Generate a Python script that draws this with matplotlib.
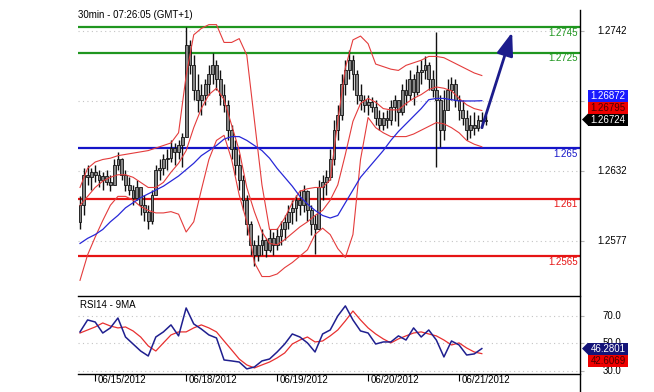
import numpy as np
import matplotlib
matplotlib.use('Agg')
import matplotlib.pyplot as plt
from matplotlib.patches import Rectangle, Polygon
from matplotlib.lines import Line2D
from matplotlib.transforms import IdentityTransform, blended_transform_factory

plt.rcParams['font.family'] = ['Liberation Sans', 'DejaVu Sans']

# hourly bars, EUR/USD-ish
first_open = 1.2592
close = [1.2605, 1.2629, 1.2627, 1.2631, 1.2629, 1.2625, 1.2628, 1.2623, 1.2621, 1.2637,
         1.2641, 1.2629, 1.2621, 1.2617, 1.2611, 1.2619, 1.2605, 1.2600, 1.2593, 1.2613,
         1.2633, 1.2634, 1.2641, 1.2642, 1.2650, 1.2647, 1.2652, 1.2659, 1.2731, 1.2715,
         1.2696, 1.2688, 1.2692, 1.2700, 1.2708, 1.2715, 1.2704, 1.2692, 1.2684, 1.2664,
         1.2649, 1.2637, 1.2625, 1.2609, 1.2590, 1.2574, 1.2566, 1.2574, 1.2578, 1.2570,
         1.2579, 1.2574, 1.2581, 1.2586, 1.2592, 1.2600, 1.2603, 1.2609, 1.2605, 1.2616,
         1.2601, 1.2590, 1.2586, 1.2619, 1.2623, 1.2627, 1.2641, 1.2664, 1.2676, 1.2700,
         1.2711, 1.2719, 1.2708, 1.2692, 1.2688, 1.2684, 1.2686, 1.2682, 1.2674, 1.2668,
         1.2674, 1.2672, 1.2682, 1.2688, 1.2678, 1.2696, 1.2692, 1.2704, 1.2694, 1.2710,
         1.2711, 1.2715, 1.2704, 1.2696, 1.2688, 1.2664, 1.2680, 1.2696, 1.2700, 1.2688,
         1.2680, 1.2674, 1.2664, 1.2668, 1.2666, 1.2672, 1.2671, 1.26724]
high = [1.2612, 1.2634, 1.2637, 1.2634, 1.2637, 1.2633, 1.2631, 1.2633, 1.2629, 1.2641,
        1.2647, 1.2642, 1.2633, 1.2627, 1.2621, 1.2625, 1.2617, 1.2613, 1.2605, 1.2617,
        1.2637, 1.2641, 1.2645, 1.2649, 1.2656, 1.2654, 1.2656, 1.2662, 1.2745, 1.2735,
        1.2723, 1.2708, 1.2700, 1.2704, 1.2715, 1.2725, 1.2719, 1.2711, 1.2700, 1.2688,
        1.2668, 1.2656, 1.2645, 1.2629, 1.2613, 1.2593, 1.2578, 1.2582, 1.2586, 1.2579,
        1.2586, 1.2584, 1.2587, 1.2593, 1.2597, 1.2605, 1.2609, 1.2613, 1.2617, 1.2621,
        1.2617, 1.2605, 1.2597, 1.2625, 1.2629, 1.2633, 1.2649, 1.2672, 1.2684, 1.2708,
        1.2719, 1.2727, 1.2723, 1.2711, 1.2700, 1.2692, 1.2692, 1.2690, 1.2688, 1.2680,
        1.2678, 1.2680, 1.2688, 1.2692, 1.2688, 1.2700, 1.2704, 1.2711, 1.2708, 1.2715,
        1.2719, 1.2722, 1.2718, 1.2711, 1.2741, 1.2692, 1.2696, 1.2704, 1.2706, 1.2704,
        1.2692, 1.2688, 1.2680, 1.2676, 1.2678, 1.2676, 1.2678, 1.2676]
low = [1.2586, 1.2597, 1.2621, 1.2617, 1.2623, 1.2619, 1.2617, 1.2621, 1.2616, 1.2623,
       1.2633, 1.2625, 1.2616, 1.2613, 1.2605, 1.2609, 1.2597, 1.2593, 1.2586, 1.2590,
       1.2613, 1.2625, 1.2629, 1.2633, 1.2639, 1.2637, 1.2641, 1.2635, 1.2659, 1.2708,
       1.2688, 1.2678, 1.2676, 1.2684, 1.2692, 1.2700, 1.2696, 1.2684, 1.2678, 1.2656,
       1.2641, 1.2629, 1.2617, 1.2601, 1.2582, 1.2566, 1.2557, 1.2561, 1.2566, 1.2564,
       1.2568, 1.2566, 1.2570, 1.2574, 1.2578, 1.2586, 1.2590, 1.2593, 1.2597, 1.2600,
       1.2593, 1.2582, 1.2567, 1.2586, 1.2609, 1.2613, 1.2625, 1.2637, 1.2656, 1.2672,
       1.2692, 1.2704, 1.2696, 1.2685, 1.2680, 1.2678, 1.2676, 1.2678, 1.2668, 1.2664,
       1.2664, 1.2666, 1.2668, 1.2671, 1.2667, 1.2676, 1.2684, 1.2688, 1.2684, 1.2692,
       1.2700, 1.2704, 1.2696, 1.2690, 1.2635, 1.2651, 1.2656, 1.2680, 1.2688, 1.2682,
       1.2672, 1.2668, 1.2656, 1.2658, 1.2660, 1.2663, 1.2666, 1.2668]

# indicator lines, read every second bar
bb_upper = [1.2619, 1.2634, 1.2639, 1.2641, 1.2642, 1.2644, 1.2645, 1.2646, 1.2647, 1.2648,
            1.2650, 1.2652, 1.2654, 1.2662, 1.2707, 1.2739, 1.2744, 1.2747, 1.2747, 1.2733,
            1.2733, 1.2736, 1.2723, 1.2672, 1.2621, 1.2586, 1.2586, 1.2595, 1.2607, 1.2616,
            1.2618, 1.2619, 1.2619, 1.2625, 1.2671, 1.2713, 1.2735, 1.2738, 1.2732, 1.2716,
            1.2714, 1.2712, 1.2711, 1.2715, 1.2717, 1.2719, 1.2722, 1.2722, 1.2721, 1.2718,
            1.2715, 1.2712, 1.2709, 1.2707]
bb_mid = [1.2605, 1.2612, 1.2619, 1.2624, 1.2627, 1.2629, 1.2629, 1.2627, 1.2623, 1.2619,
          1.2619, 1.2623, 1.2631, 1.2638, 1.2648, 1.2666, 1.2681, 1.2692, 1.2697, 1.2688,
          1.2668, 1.2648, 1.2619, 1.2600, 1.2584, 1.2575, 1.2574, 1.2578, 1.2583, 1.2588,
          1.2592, 1.2597, 1.2601, 1.2609, 1.2621, 1.2645, 1.2671, 1.2685, 1.2689, 1.2686,
          1.2681, 1.2680, 1.2680, 1.2685, 1.2689, 1.2692, 1.2696, 1.2698, 1.2697, 1.2695,
          1.2689, 1.2684, 1.2681, 1.26795]
bb_lower = [1.2546, 1.2566, 1.2580, 1.2593, 1.2605, 1.2612, 1.2612, 1.2609, 1.2604, 1.2601,
            1.2599, 1.2599, 1.2600, 1.2598, 1.2584, 1.2592, 1.2617, 1.2641, 1.2656, 1.2660,
            1.2641, 1.2613, 1.2592, 1.2560, 1.2549, 1.2549, 1.2551, 1.2556, 1.2560, 1.2565,
            1.2570, 1.2582, 1.2587, 1.2582, 1.2571, 1.2564, 1.2582, 1.2641, 1.2674, 1.2666,
            1.2662, 1.2659, 1.2659, 1.2659, 1.2661, 1.2664, 1.2667, 1.2670, 1.2669, 1.2666,
            1.2662, 1.2656, 1.2653, 1.2651]
ma_line = [1.2575, 1.2579, 1.2582, 1.2586, 1.2592, 1.2597, 1.2603, 1.2607, 1.2611, 1.2614,
           1.2617, 1.2620, 1.2624, 1.2628, 1.2633, 1.2638, 1.2644, 1.2648, 1.2652, 1.2657,
           1.2659, 1.2659, 1.2656, 1.2652, 1.2648, 1.2642, 1.2634, 1.2627, 1.2620, 1.2612,
           1.2606, 1.2601, 1.2597, 1.2595, 1.2597, 1.2607, 1.2617, 1.2627, 1.2634, 1.2641,
           1.2648, 1.2656, 1.2663, 1.2669, 1.2675, 1.2681, 1.2688, 1.2689, 1.2689, 1.2688,
           1.2687, 1.2687, 1.2687, 1.26872]
rsi = [58.4, 67.1, 65.6, 57.6, 61.3, 68.5, 54.7, 49.6, 44.5, 40.9,
       54.7, 58.4, 63.5, 55.5, 75.8, 64.2, 60.5, 56.2, 54.0, 38.0,
       37.3, 36.5, 31.5, 32.9, 37.3, 38.7, 43.8, 49.6, 56.9, 54.7,
       50.4, 43.8, 56.9, 59.8, 70.0, 77.3, 67.1, 59.1, 57.6, 49.6,
       51.1, 51.1, 55.5, 52.5, 61.3, 54.7, 59.8, 52.5, 40.2, 51.8,
       48.9, 41.6, 42.4, 46.2801]
rsi_ma = [57.6, 59.8, 62.0, 64.9, 62.7, 61.3, 62.0, 59.1, 54.7, 48.2,
          44.5, 50.4, 56.2, 58.4, 58.4, 61.3, 63.5, 61.3, 58.4, 51.8,
          45.3, 38.7, 34.4, 32.2, 34.4, 36.5, 39.5, 43.1, 49.6, 52.5,
          54.7, 51.1, 51.8, 55.5, 59.8, 66.4, 73.6, 67.1, 61.3, 56.9,
          53.3, 50.4, 53.3, 55.5, 57.6, 58.4, 56.9, 55.5, 52.5, 48.9,
          50.4, 46.7, 43.8, 42.6069]

# support / resistance levels
levels = [1.2745, 1.2725, 1.265, 1.261, 1.2565]
level_labels = ['1.2745', '1.2725', '1.265', '1.261', '1.2565']
level_colors = ['#1f961f', '#1f961f', '#1414c8', '#e61414', '#e61414']

price_ticks = [1.2742, 1.2687, 1.2632, 1.2577]
price_tick_labels = ['1.2742', '', '1.2632', '1.2577']  # 1.2687 sits under the value tags
rsi_ticks = [70.0, 50.0, 30.0]
rsi_tick_labels = ['70.0', '50.0', '30.0']
day_bars = [4, 28, 52, 76, 100]
day_labels = ['06/15/2012', '06/18/2012', '06/19/2012', '06/20/2012', '06/21/2012']
target_bar, target_price = 114, 1.2741
arrow_bar, arrow_price = 106, 1.2666

W, H = 654, 392
fig = plt.figure(figsize=(W / 100, H / 100), dpi=100)


def box(x0, y0, x1, y1):
    """pixel box (from top-left) -> figure fraction rect"""
    return [x0 / W, 1 - y1 / H, (x1 - x0) / W, (y1 - y0) / H]


def value_tag(ax, value, label, face, text_color, shift=0, pointer=False):
    spine_x = ax.transAxes.transform((1, 0))[0]
    y = ax.transData.transform((0, value))[1] + shift
    x0 = spine_x + 8
    ident = IdentityTransform()
    fig.add_artist(Rectangle((x0, y - 6), 40, 12, transform=ident,
                             facecolor=face, edgecolor='none'))
    if pointer:
        fig.add_artist(Polygon([(x0 - 6, y), (x0, y + 6), (x0, y - 6)], closed=True,
                               transform=ident, facecolor=face, edgecolor='none'))
    fig.text(x0 + 20, y, label, transform=ident, ha='center', va='center',
             fontsize=7, color=text_color)


def right_labels(ax, ticks, labels):
    trans = blended_transform_factory(ax.transAxes, ax.transData)
    for t, s in zip(ticks, labels):
        if s:
            ax.text(1.0637, t, s, transform=trans, ha='center', va='center', fontsize=7)


ax = fig.add_axes(box(78, 3, 580, 296))
rax = fig.add_axes(box(78, 296, 580, 374))

idx = np.arange(len(close))
sample_idx = np.arange(0, len(close) - 1, 2)
opens = np.array([first_open] + close[:-1])
closes = np.array(close)

# --- price panel ---
ax.set_xlim(-0.53, 131.9)
ax.set_ylim(1.25337, 1.27640)
for p in price_ticks:
    ax.axhline(p, color='#c4c4c4', lw=0.8, ls=(0, (1, 3)), zorder=0)
for lv, c in zip(levels, level_colors):
    ax.axhline(lv, color=c, lw=1.6, zorder=1)

ax.vlines(idx, low, high, color='#111111', lw=1.0, zorder=3)
ax.bar(idx, closes - opens, bottom=opens, width=0.74, color='#858585',
       edgecolor='#111111', linewidth=0.6, zorder=4)

ax.plot(sample_idx, bb_upper, color='#e43c3c', lw=0.8, zorder=5)
ax.plot(sample_idx, bb_mid, color='#e43c3c', lw=0.8, zorder=5)
ax.plot(sample_idx, bb_lower, color='#e43c3c', lw=0.8, zorder=5)
ax.plot(sample_idx, ma_line, color='#2828d8', lw=0.9, zorder=5)

ax.annotate('', xy=(target_bar, target_price), xytext=(arrow_bar, arrow_price),
            arrowprops=dict(arrowstyle='-|>,head_length=1.4,head_width=0.5',
                            color='#1c1c8c', lw=2.0, shrinkA=0, shrinkB=0), zorder=6)

lvl_trans = blended_transform_factory(ax.transAxes, ax.transData)
for lv, s, c in zip(levels, level_labels, level_colors):
    ax.text(0.996, lv - 0.00004, s, transform=lvl_trans, ha='right', va='top',
            fontsize=7, color=c)

for s in ['left', 'top', 'bottom', 'right']:
    ax.spines[s].set_visible(False)
ax.set_xticks([])
ax.yaxis.tick_right()
ax.set_yticks(price_ticks)
ax.tick_params(axis='y', length=3, color='#b4b4b4', labelright=False)
right_labels(ax, price_ticks, price_tick_labels)

fig.text(78 / W, 1 - 15 / H, '30min - 07:26:05 (GMT+1)', fontsize=7, va='center')

# --- RSI panel ---
rax.set_xlim(-0.53, 131.9)
rax.set_ylim(27.8, 84.5)
for t in rsi_ticks:
    rax.axhline(t, color='#c4c4c4', lw=0.8, ls=(0, (1, 3)), zorder=0)
rax.plot(sample_idx, rsi_ma, color='#e83030', lw=0.9, zorder=3)
rax.plot(sample_idx, rsi, color='#1f1f8f', lw=1.1, zorder=4)
rax.text(0.004, 0.89, 'RSI14 - 9MA', transform=rax.transAxes, fontsize=7, va='center')

for s in ['left', 'right']:
    rax.spines[s].set_visible(False)
for s in ['top', 'bottom']:
    rax.spines[s].set_linewidth(1.0)
rax.yaxis.tick_right()
rax.set_yticks(rsi_ticks)
rax.tick_params(axis='y', length=3, color='#b4b4b4', labelright=False)
right_labels(rax, rsi_ticks, rsi_tick_labels)
rax.set_xticks(day_bars)
rax.tick_params(axis='x', length=5, width=0.8, direction='out', labelbottom=False)
day_trans = blended_transform_factory(rax.transData, rax.transAxes)
for b, s in zip(day_bars, day_labels):
    rax.text(b + 0.55, -0.015, s, transform=day_trans, ha='left', va='top', fontsize=7)

# full-height right border
spine_x = ax.transAxes.transform((1, 0))[0]
fig.add_artist(Line2D([spine_x, spine_x], [0, H - 10], transform=IdentityTransform(),
                      color='black', lw=1.0))

# last-value tags
value_tag(ax, close[-1], f'{close[-1]:.5f}', '#000000', 'white', pointer=True)
value_tag(ax, close[-1], f'{bb_mid[-1]:.5f}', '#ee0000', '#4a0000', shift=12)
value_tag(ax, close[-1], f'{ma_line[-1]:.5f}', '#1a1aff', 'white', shift=24)
value_tag(rax, rsi[-1], f'{rsi[-1]:.4f}', '#141478', 'white', pointer=True)
value_tag(rax, rsi[-1], f'{rsi_ma[-1]:.4f}', '#ee0000', '#4a0000', shift=-12)

fig.savefig('out.png', dpi=100)
